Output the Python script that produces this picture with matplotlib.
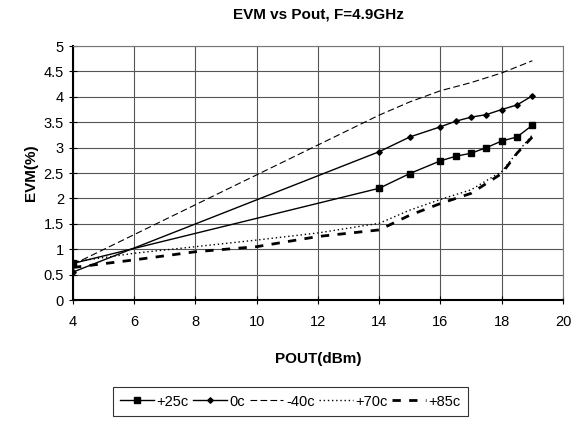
import matplotlib
matplotlib.use("Agg")
import matplotlib.pyplot as plt

plt.rcParams['font.family'] = ['Liberation Sans', 'DejaVu Sans']

# Datos
pout_25 = [4, 14, 15, 16, 16.5, 17, 17.5, 18, 18.5, 19]
evm_25 = [0.72, 2.2, 2.49, 2.74, 2.83, 2.89, 3.0, 3.13, 3.21, 3.44]

pout_0 = [4, 14, 15, 16, 16.5, 17, 17.5, 18, 18.5, 19]
evm_0 = [0.55, 2.92, 3.21, 3.41, 3.52, 3.6, 3.65, 3.75, 3.84, 4.02]

pout_m40 = [4, 14, 15, 16, 17, 18, 19]
evm_m40 = [0.7, 3.64, 3.9, 4.12, 4.28, 4.47, 4.71]

pout_70 = [4, 6, 8, 10, 12, 14, 15, 16, 17, 18, 18.5, 19]
evm_70 = [0.75, 0.92, 1.05, 1.18, 1.32, 1.51, 1.77, 1.98, 2.17, 2.53, 2.9, 3.25]

pout_85 = [4, 6, 8, 10, 12, 14, 15, 16, 17, 18, 18.5, 19]
evm_85 = [0.64, 0.79, 0.95, 1.05, 1.25, 1.38, 1.67, 1.9, 2.1, 2.49, 2.89, 3.21]

fig = plt.figure(figsize=(5.81, 4.21), dpi=100)
ax = fig.add_axes([0.1256, 0.2874, 0.8434, 0.6033])

ax.plot(pout_25, evm_25, color='black', lw=1, marker='s', ms=4.5, label='+25c')
ax.plot(pout_0, evm_0, color='black', lw=1, marker='D', ms=2.8, label='0c')
ax.plot(pout_m40, evm_m40, color='black', lw=0.8, ls=(0, (6, 3)), label='-40c')
ax.plot(pout_70, evm_70, color='black', lw=1, ls=(0, (1, 2)), label='+70c')
ax.plot(pout_85, evm_85, color='black', lw=2, ls=(0, (3, 3)), label='+85c')

ax.set_xlim(4, 20)
ax.set_ylim(0, 5)
ax.set_xticks(range(4, 21, 2))
ax.set_yticks([0, 0.5, 1, 1.5, 2, 2.5, 3, 3.5, 4, 4.5, 5])
ax.set_yticklabels(['0', '0.5', '1', '1.5', '2', '2.5', '3', '3.5', '4', '4.5', '5'])
ax.grid(True, color='#555555', lw=0.8)
ax.tick_params(direction='inout', length=6, labelsize=10.5, width=0.8)
ax.tick_params(axis='x', pad=8)

for s in ['top', 'right']:
    ax.spines[s].set_color('#777777')
    ax.spines[s].set_linewidth(0.8)
for s in ['left', 'bottom']:
    ax.spines[s].set_linewidth(1.5)

ax.set_title('EVM vs Pout, F=4.9GHz', fontsize=11, fontweight='bold', pad=20)
ax.set_xlabel('POUT(dBm)', fontsize=11, fontweight='bold', labelpad=16)
ax.set_ylabel('EVM(%)', fontsize=11, fontweight='bold', labelpad=4)

leg = fig.legend(loc='center', bbox_to_anchor=(290.5 / 581, 1 - 401.5 / 421), ncol=5,
                 fontsize=10.5, frameon=True, fancybox=False, edgecolor='black',
                 handlelength=2.3, handletextpad=0.2, columnspacing=0.3,
                 borderpad=0.5, borderaxespad=0)
leg.get_frame().set_linewidth(0.8)

fig.savefig('out.png', dpi=100)
